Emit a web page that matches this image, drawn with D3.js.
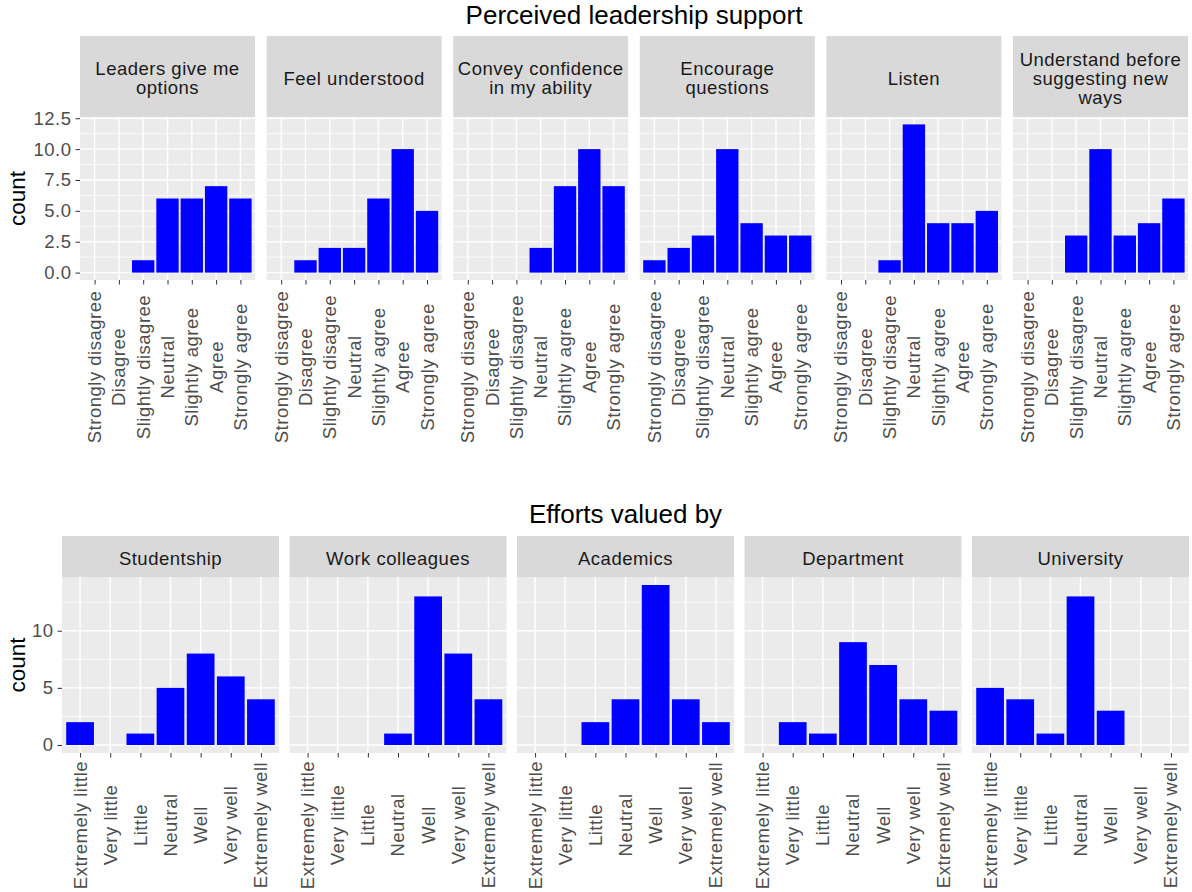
<!DOCTYPE html>
<html>
<head>
<meta charset="utf-8">
<script src="https://cdn.jsdelivr.net/npm/d3@7"></script>
<style>
  html, body { margin: 0; padding: 0; background: #ffffff; }
  text { font-family: "Liberation Sans", Arial, sans-serif; }
</style>
</head>
<body>
<script>
// ---------------- DATA ----------------
const agreementLevels = ["Strongly disagree", "Disagree", "Slightly disagree", "Neutral", "Slightly agree", "Agree", "Strongly agree"];
const leadershipFacets = ["Leaders give me\noptions", "Feel understood", "Convey confidence\nin my ability", "Encourage\nquestions", "Listen", "Understand before\nsuggesting new\nways"];
const leadersGiveOptions   = [0, 0, 1, 6, 6, 7, 6];
const feelUnderstood       = [0, 1, 2, 2, 6, 10, 5];
const conveyConfidence     = [0, 0, 0, 2, 7, 10, 7];
const encourageQuestions   = [1, 2, 3, 10, 4, 3, 3];
const listen               = [0, 0, 1, 12, 4, 4, 5];
const understandBefore     = [0, 0, 3, 10, 3, 4, 6];
const leadershipTicks = [0, 2.5, 5, 7.5, 10, 12.5];

const valuedLevels = ["Extremely little", "Very little", "Little", "Neutral", "Well", "Very well", "Extremely well"];
const valuedFacets = ["Studentship", "Work colleagues", "Academics", "Department", "University"];
const studentship     = [2, 0, 1, 5, 8, 6, 4];
const workColleagues  = [0, 0, 0, 1, 13, 8, 4];
const academics       = [0, 0, 2, 4, 14, 4, 2];
const department      = [0, 2, 1, 9, 7, 4, 3];
const university      = [5, 4, 1, 13, 3, 0, 0];
const valuedTicks = [0, 5, 10];

// ---------------- DRAWING ----------------
const W = 1192, H = 892;
const svg = d3.select("body").append("svg").attr("width", W).attr("height", H);

const FONT_TICK = 18.5;
const LS = "0.5px";

function drawRow(o) {
  const g = svg.append("g");
  const n = o.facets.length;
  const panelTop = o.stripTop + o.stripH;

  const y = d3.scaleLinear()
    .domain([-o.yMax * 0.05, o.yMax * 1.05])
    .range([o.panelBottom, panelTop]);

  const majorStep = o.yTicks[1] - o.yTicks[0];
  const minor = [];
  o.yTicks.forEach(v => {
    [v - majorStep / 2, v + majorStep / 2].forEach(m => {
      const [d0, d1] = y.domain();
      if (m > d0 && m < d1 && !minor.includes(m) && !o.yTicks.includes(m)) minor.push(m);
    });
  });

  o.facets.forEach((facet, i) => {
    const x0 = o.left + i * o.step;
    const x = d3.scalePoint().domain(o.levels).range([x0, x0 + o.panelW]).padding(0.6);
    const pg = g.append("g");

    // strip
    pg.append("rect").attr("x", x0).attr("y", o.stripTop).attr("width", o.panelW).attr("height", o.stripH).attr("fill", "#D9D9D9");
    const lines = facet.split("\n");
    const cy = o.stripTop + o.stripH / 2 + 2;
    lines.forEach((ln, k) => {
      pg.append("text")
        .attr("x", x0 + o.panelW / 2)
        .attr("y", cy + (k - (lines.length - 1) / 2) * 19)
        .attr("dy", "0.35em")
        .attr("text-anchor", "middle")
        .attr("font-size", FONT_TICK)
        .attr("letter-spacing", LS)
        .attr("fill", "#1A1A1A")
        .text(ln);
    });

    // panel bg
    pg.append("rect").attr("x", x0).attr("y", panelTop).attr("width", o.panelW).attr("height", o.panelBottom - panelTop).attr("fill", "#EBEBEB");

    // minor grid
    pg.selectAll(".ymin").data(minor).join("line")
      .attr("x1", x0).attr("x2", x0 + o.panelW)
      .attr("y1", d => y(d)).attr("y2", d => y(d))
      .attr("stroke", "#ffffff").attr("stroke-width", 0.8);
    // major grid
    pg.selectAll(".ymaj").data(o.yTicks).join("line")
      .attr("x1", x0).attr("x2", x0 + o.panelW)
      .attr("y1", d => y(d)).attr("y2", d => y(d))
      .attr("stroke", "#ffffff").attr("stroke-width", 1.4);
    pg.selectAll(".xmaj").data(o.levels).join("line")
      .attr("x1", d => x(d)).attr("x2", d => x(d))
      .attr("y1", panelTop).attr("y2", o.panelBottom)
      .attr("stroke", "#ffffff").attr("stroke-width", 1.4);

    // bars
    const bw = x.step() * o.barFrac;
    const vals = o.series[i];
    pg.selectAll(".bar").data(o.levels.map((l, k) => ({ l, v: vals[k] })).filter(d => d.v > 0)).join("rect")
      .attr("x", d => x(d.l) - bw / 2)
      .attr("width", bw)
      .attr("y", d => y(d.v))
      .attr("height", d => y(0) - y(d.v))
      .attr("fill", "#0000FF");

    // x axis ticks
    const xa = pg.append("g").attr("transform", `translate(0,${o.panelBottom})`)
      .call(d3.axisBottom(x).tickSize(4.5).tickFormat(""));
    xa.select(".domain").remove();
    xa.selectAll(".tick line").attr("stroke", "#333333").attr("stroke-width", 1);

    // rotated labels (centered)
    pg.selectAll(".xl").data(o.levels).join("text")
      .attr("transform", d => `translate(${x(d)},${o.labelCenterY}) rotate(-90)`)
      .attr("dy", "0.35em")
      .attr("text-anchor", "middle")
      .attr("font-size", FONT_TICK)
      .attr("letter-spacing", LS)
      .attr("fill", "#4D4D4D")
      .text(d => d);

    // y axis on first panel
    if (i === 0) {
      const ya = pg.append("g").attr("transform", `translate(${x0},0)`)
        .call(d3.axisLeft(y).tickValues(o.yTicks).tickSize(4.5).tickPadding(4).tickFormat(o.yFmt));
      ya.select(".domain").remove();
      ya.selectAll(".tick line").attr("stroke", "#333333").attr("stroke-width", 1);
      ya.selectAll(".tick text")
        .attr("font-size", FONT_TICK)
        .attr("letter-spacing", LS)
        .attr("fill", "#4D4D4D")
        .attr("font-family", "Liberation Sans, Arial, sans-serif");
    }
  });

  // title
  const last = o.left + (n - 1) * o.step + o.panelW;
  g.append("text")
    .attr("x", (o.left + last) / 2)
    .attr("y", o.titleY)
    .attr("text-anchor", "middle")
    .attr("font-size", 26)
    .attr("fill", "#000000")
    .text(o.title);

  // y title
  g.append("text")
    .attr("transform", `translate(25,${(panelTop + o.panelBottom) / 2}) rotate(-90)`)
    .attr("text-anchor", "middle")
    .attr("font-size", 22.5)
    .attr("fill", "#000000")
    .text("count");
}

drawRow({
  title: "Perceived leadership support",
  titleY: 24,
  facets: leadershipFacets,
  levels: agreementLevels,
  series: [leadersGiveOptions, feelUnderstood, conveyConfidence, encourageQuestions, listen, understandBefore],
  yTicks: leadershipTicks,
  yMax: 12,
  yFmt: d3.format(".1f"),
  left: 80, panelW: 175, step: 186.6,
  stripTop: 36, stripH: 81, panelBottom: 280,
  labelCenterY: 367,
  barFrac: 0.92
});

drawRow({
  title: "Efforts valued by",
  titleY: 523,
  facets: valuedFacets,
  levels: valuedLevels,
  series: [studentship, workColleagues, academics, department, university],
  yTicks: valuedTicks,
  yMax: 14,
  yFmt: d3.format("d"),
  left: 62, panelW: 217, step: 227.5,
  stripTop: 536, stripH: 41, panelBottom: 753,
  labelCenterY: 825,
  barFrac: 0.92
});
</script>
</body>
</html>
